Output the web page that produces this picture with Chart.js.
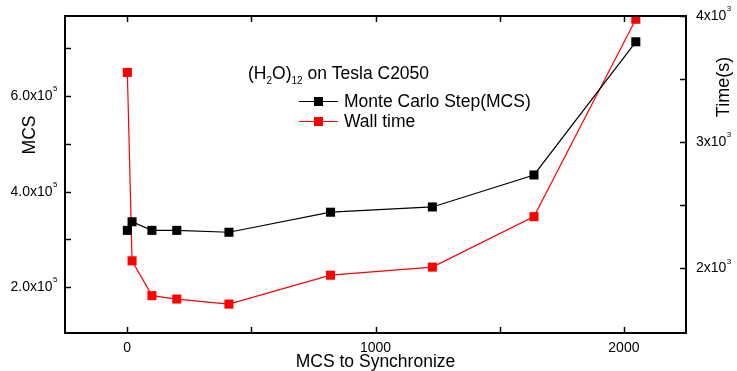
<!DOCTYPE html>
<html>
<head>
<meta charset="UTF-8">
<title>(H2O)12 on Tesla C2050</title>
<script src="https://cdn.jsdelivr.net/npm/chart.js"></script>
<style>
  html, body { margin: 0; padding: 0; background: #fff; }
  #wrap { width: 737px; height: 371px; }
</style>
</head>
<body>
<div id="wrap"><canvas id="c"></canvas></div>
<script>
// data
const syncSteps = [1, 20, 100, 200, 410, 819, 1229, 1638, 2048];
const mcsValues = [3.19e5, 3.37e5, 3.19e5, 3.19e5, 3.15e5, 3.57e5, 3.68e5, 4.35e5, 7.14e5];
const wallTime = [3553, 2060, 1784, 1757, 1717, 1946, 2010, 2410, 3974];

const xTicks = [0, 1000, 2000];
const xMinor = [500, 1500];
const leftTicks = [2, 4, 6];      // x10^5
const leftMinor = [3, 5, 7];
const rightTicks = [2, 3, 4];     // x10^3
const rightMinor = [2.5, 3.5];

const FONT = '"Liberation Sans", Arial, sans-serif';

function supLabel(ctx, base, exp, x, y, align) {
  ctx.font = '14px ' + FONT;
  const wb = ctx.measureText(base).width;
  ctx.font = '8px ' + FONT;
  const we = ctx.measureText(exp).width;
  let x0 = align === 'right' ? x - wb - we : x;
  ctx.textAlign = 'left';
  ctx.textBaseline = 'middle';
  ctx.font = '14px ' + FONT;
  ctx.fillText(base, x0, y);
  ctx.font = '8px ' + FONT;
  ctx.fillText(exp, x0 + wb + 0.5, y - 7);
}

const decor = {
  id: 'decor',
  afterDraw(chart) {
    const ctx = chart.ctx;
    const a = chart.chartArea;
    const sx = chart.scales.x, sy = chart.scales.y, sy1 = chart.scales.y1;
    ctx.save();
    ctx.strokeStyle = '#000';
    ctx.fillStyle = '#000';
    ctx.lineWidth = 2;
    ctx.strokeRect(a.left, a.top, a.right - a.left, a.bottom - a.top);

    ctx.lineWidth = 1.5;
    ctx.beginPath();
    xTicks.concat(xMinor).forEach(v => {
      const px = Math.round(sx.getPixelForValue(v)) + 0.5;
      ctx.moveTo(px, a.bottom); ctx.lineTo(px, a.bottom - 6);
      ctx.moveTo(px, a.top); ctx.lineTo(px, a.top + 6);
    });
    leftTicks.concat(leftMinor).forEach(v => {
      const py = Math.round(sy.getPixelForValue(v * 1e5)) + 0.5;
      ctx.moveTo(a.left, py); ctx.lineTo(a.left + 6, py);
    });
    rightTicks.concat(rightMinor).forEach(v => {
      const py = Math.round(sy1.getPixelForValue(v * 1e3)) + 0.5;
      ctx.moveTo(a.right, py); ctx.lineTo(a.right - 6, py);
    });
    ctx.stroke();

    // tick labels
    ctx.font = '14px ' + FONT;
    ctx.textAlign = 'center';
    ctx.textBaseline = 'middle';
    xTicks.forEach(v => ctx.fillText(String(v), sx.getPixelForValue(v), a.bottom + 15));
    leftTicks.forEach(v => supLabel(ctx, v.toFixed(1) + 'x10', '5', a.left - 8, sy.getPixelForValue(v * 1e5), 'right'));
    rightTicks.forEach(v => supLabel(ctx, v + 'x10', '3', a.right + 10, sy1.getPixelForValue(v * 1e3), 'left'));

    // axis titles
    ctx.font = '17.5px ' + FONT;
    ctx.textAlign = 'center';
    ctx.textBaseline = 'middle';
    ctx.fillText('MCS to Synchronize', (a.left + a.right) / 2, a.bottom + 29);
    ctx.save();
    ctx.translate(30, 135);
    ctx.rotate(-Math.PI / 2);
    ctx.fillText('MCS', 0, 0);
    ctx.restore();
    ctx.save();
    ctx.font = '18px ' + FONT;
    ctx.translate(724, 87);
    ctx.rotate(-Math.PI / 2);
    ctx.fillText('Time(s)', 0, 0);
    ctx.restore();

    // legend with title
    const parts = [['(H', 0], ['2', 1], ['O)', 0], ['12', 1], [' on Tesla C2050', 0]];
    let tx = 248;
    ctx.textAlign = 'left';
    ctx.textBaseline = 'alphabetic';
    parts.forEach(([t, sub]) => {
      ctx.font = (sub ? '10px ' : '17.5px ') + FONT;
      ctx.fillText(t, tx, sub ? 84 : 79);
      tx += ctx.measureText(t).width;
    });
    const items = [['Monte Carlo Step(MCS)', '#000000', 101], ['Wall time', '#ff0000', 121]];
    items.forEach(([label, col, y]) => {
      ctx.strokeStyle = col;
      ctx.lineWidth = 1.2;
      ctx.beginPath();
      ctx.moveTo(299, y + 0.5); ctx.lineTo(338, y + 0.5);
      ctx.stroke();
      ctx.fillStyle = col;
      ctx.fillRect(314, y - 4, 9, 9);
      ctx.fillStyle = '#000';
      ctx.font = '17.5px ' + FONT;
      ctx.textBaseline = 'middle';
      ctx.fillText(label, 344, y + 1);
    });
    ctx.restore();
  }
};

new Chart(document.getElementById('c'), {
  type: 'line',
  data: {
    datasets: [{
      label: 'Monte Carlo Step(MCS)',
      data: syncSteps.map((x, i) => ({ x: x, y: mcsValues[i] })),
      yAxisID: 'y',
      borderColor: '#000000',
      backgroundColor: '#000000',
      borderWidth: 1.2,
      pointStyle: 'rect',
      pointRadius: 6.4,
      pointBorderWidth: 0,
      tension: 0
    }, {
      label: 'Wall time',
      data: syncSteps.map((x, i) => ({ x: x, y: wallTime[i] })),
      yAxisID: 'y1',
      borderColor: '#ff0000',
      backgroundColor: '#ff0000',
      borderWidth: 1.2,
      pointStyle: 'rect',
      pointRadius: 6.4,
      pointBorderWidth: 0,
      tension: 0
    }]
  },
  options: {
    responsive: true,
    maintainAspectRatio: false,
    animation: false,
    layout: { padding: { top: 16, left: 0, right: 0, bottom: 0 } },
    plugins: { legend: { display: false }, tooltip: { enabled: false } },
    scales: {
      x: {
        type: 'linear', min: -250, max: 2250,
        grid: { display: false }, border: { display: false },
        ticks: { display: false },
        afterFit(s) { s.height = 38; }
      },
      y: {
        position: 'left', min: 1.04e5, max: 7.68e5,
        grid: { display: false }, border: { display: false },
        ticks: { display: false },
        afterFit(s) { s.width = 65; }
      },
      y1: {
        position: 'right', min: 1488, max: 4000,
        grid: { display: false }, border: { display: false },
        ticks: { display: false },
        afterFit(s) { s.width = 51; }
      }
    }
  },
  plugins: [decor]
});
</script>
</body>
</html>
